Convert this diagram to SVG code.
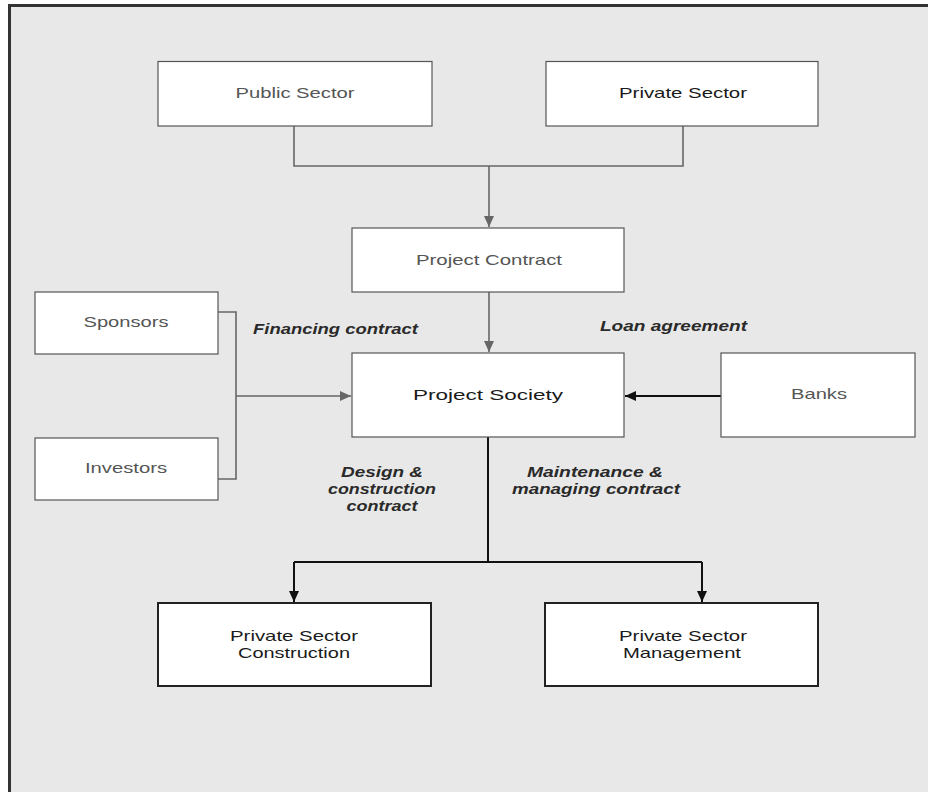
<svg xmlns="http://www.w3.org/2000/svg" width="928" height="792" viewBox="0 0 928 792">
<defs>
<marker id="ag" markerUnits="userSpaceOnUse" markerWidth="12" markerHeight="12" viewBox="0 0 12 12" refX="11" refY="6" orient="auto">
<path d="M0,1 L11,6 L0,11 Z" fill="#666"/>
</marker>
<marker id="ab" markerUnits="userSpaceOnUse" markerWidth="12" markerHeight="12" viewBox="0 0 12 12" refX="11" refY="6" orient="auto">
<path d="M0,1 L11,6 L0,11 Z" fill="#111"/>
</marker>
</defs>
<style>
.box{fill:#fff;stroke:#555;stroke-width:1.2}
.boxd{fill:#fff;stroke:#222;stroke-width:2}
.t{font-family:"Liberation Sans",Arial,sans-serif;font-size:15px;text-anchor:middle}
.g{fill:#555}
.k{fill:#1a1a1a}
.lab{font-family:"Liberation Sans",Arial,sans-serif;font-size:14px;font-weight:bold;font-style:italic;fill:#2a2a2a;text-anchor:middle}
.cg{fill:none;stroke:#666;stroke-width:1.6}
.cb{fill:none;stroke:#111;stroke-width:2}
</style>
<rect x="0" y="0" width="928" height="792" fill="#fff"/>
<rect x="9.5" y="5.5" width="940" height="800" fill="#e8e8e8" stroke="#333" stroke-width="3"/>

<g id="connectors">
<path class="cg" d="M294,126 V166 H683 V126"/>
<path class="cg" d="M489,166 V227" marker-end="url(#ag)"/>
<path class="cg" d="M489,292 V352" marker-end="url(#ag)"/>
<path class="cg" d="M218,312 H236 V479 H218"/>
<path class="cg" d="M236,396 H351" marker-end="url(#ag)"/>
<path class="cb" d="M721,396 H625" marker-end="url(#ab)" stroke-width="1.8"/>
<path class="cb" d="M488,437 V562"/>
<path class="cb" d="M294,562 H702"/>
<path class="cb" d="M294,562 V602" marker-end="url(#ab)"/>
<path class="cb" d="M702,562 V602" marker-end="url(#ab)"/>
</g>

<g id="labels">
<text class="lab" x="335.5" y="334" textLength="165" lengthAdjust="spacingAndGlyphs">Financing contract</text>
<text class="lab" x="673.5" y="331" textLength="147" lengthAdjust="spacingAndGlyphs">Loan agreement</text>
<text class="lab" x="382" y="477" textLength="82" lengthAdjust="spacingAndGlyphs">Design &amp;</text>
<text class="lab" x="382" y="494" textLength="108" lengthAdjust="spacingAndGlyphs">construction</text>
<text class="lab" x="382" y="511" textLength="71" lengthAdjust="spacingAndGlyphs">contract</text>
<text class="lab" x="595" y="477" textLength="136" lengthAdjust="spacingAndGlyphs">Maintenance &amp;</text>
<text class="lab" x="596" y="494" textLength="168" lengthAdjust="spacingAndGlyphs">managing contract</text>
</g>

<g id="public-sector">
<rect class="box" x="158" y="61.5" width="274" height="64.5"/>
<text class="t g" x="295" y="98" textLength="119" lengthAdjust="spacingAndGlyphs">Public Sector</text>
</g>
<g id="private-sector">
<rect class="box" x="546" y="61.5" width="272" height="64.5"/>
<text class="t k" x="683" y="98" textLength="128" lengthAdjust="spacingAndGlyphs">Private Sector</text>
</g>
<g id="project-contract">
<rect class="box" x="352" y="228" width="272" height="64"/>
<text class="t g" x="489" y="265" textLength="146" lengthAdjust="spacingAndGlyphs">Project Contract</text>
</g>
<g id="sponsors">
<rect class="box" x="35" y="292" width="183" height="62"/>
<text class="t g" x="126" y="327" textLength="85" lengthAdjust="spacingAndGlyphs">Sponsors</text>
</g>
<g id="investors">
<rect class="box" x="35" y="438" width="183" height="62"/>
<text class="t g" x="126" y="473" textLength="82" lengthAdjust="spacingAndGlyphs">Investors</text>
</g>
<g id="project-society">
<rect class="box" x="352" y="353" width="272" height="84"/>
<text class="t k" x="488" y="400" font-size="16" textLength="150" lengthAdjust="spacingAndGlyphs">Project Society</text>
</g>
<g id="banks">
<rect class="box" x="721" y="353" width="194" height="84"/>
<text class="t g" x="819" y="399" textLength="56" lengthAdjust="spacingAndGlyphs">Banks</text>
</g>
<g id="ps-construction">
<rect class="boxd" x="158" y="603" width="273" height="83"/>
<text class="t k" x="294" y="641" font-size="14" textLength="128" lengthAdjust="spacingAndGlyphs">Private Sector</text>
<text class="t k" x="294" y="658" font-size="14" textLength="112" lengthAdjust="spacingAndGlyphs">Construction</text>
</g>
<g id="ps-management">
<rect class="boxd" x="545" y="603" width="273" height="83"/>
<text class="t k" x="683" y="641" font-size="14" textLength="128" lengthAdjust="spacingAndGlyphs">Private Sector</text>
<text class="t k" x="682" y="658" font-size="14" textLength="118" lengthAdjust="spacingAndGlyphs">Management</text>
</g>
</svg>
